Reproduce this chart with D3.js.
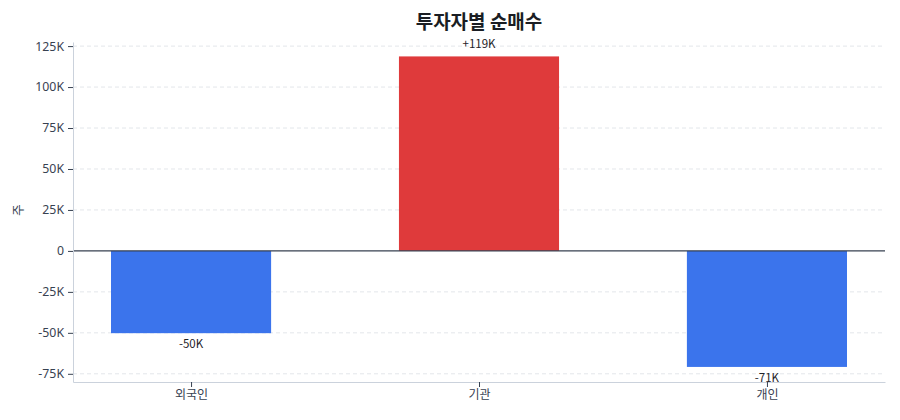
<!DOCTYPE html>
<html>
<head>
<meta charset="utf-8">
<script src="https://cdn.jsdelivr.net/npm/d3@7"></script>
<style>
  body { margin: 0; background: #fff; }
  text { font-family: "Noto Sans CJK KR", "Noto Sans", sans-serif; }
</style>
</head>
<body>
<svg id="chart"></svg>
<script>
const svgWidth = 900, svgHeight = 420;
const margin = {top: 42, right: 15, bottom: 38, left: 73},
    width = svgWidth - margin.left - margin.right,
    height = svgHeight - margin.top - margin.bottom;

// data
const investors = ["외국인", "기관", "개인"];
const netBuy = [-50200, 118700, -70800];
const valueLabels = ["-50K", "+119K", "-71K"];
const yTicks = [-75000, -50000, -25000, 0, 25000, 50000, 75000, 100000, 125000];
const yTickLabels = ["-75K", "-50K", "-25K", "0", "25K", "50K", "75K", "100K", "125K"];

const chart = d3.select("#chart")
    .attr("width", svgWidth)
    .attr("height", svgHeight);

const inner = chart.append("g")
    .attr("transform", `translate(${margin.left},${margin.top})`);

// scales
var xScale = d3.scaleLinear().domain([-0.41, 2.41]).range([0, width]);
var yScale = d3.scaleLinear().domain([-80000, 127500]).range([height, 0]);
const barW = xScale(0.556) - xScale(0);

// grid
inner.append("g").selectAll("line")
    .data(yTicks.filter(d => d !== 0))
    .enter().append("line")
    .attr("x1", 0).attr("x2", width)
    .attr("y1", d => yScale(d)).attr("y2", d => yScale(d))
    .attr("stroke", "#e3e6ea")
    .attr("stroke-dasharray", "4,3");

// bars
inner.append("g").selectAll("rect")
    .data(netBuy)
    .enter().append("rect")
    .attr("x", (d, i) => xScale(i) - barW / 2)
    .attr("width", barW)
    .attr("y", d => yScale(Math.max(0, d)))
    .attr("height", d => Math.abs(yScale(d) - yScale(0)))
    .attr("fill", d => d >= 0 ? "#df3a3b" : "#3b74ec");

// zero line
inner.append("line")
    .attr("x1", 0).attr("x2", width)
    .attr("y1", yScale(0)).attr("y2", yScale(0))
    .attr("stroke", "#374151").attr("stroke-width", 1.3);

// value labels
inner.append("g").selectAll("text")
    .data(netBuy)
    .enter().append("text")
    .attr("x", (d, i) => xScale(i))
    .attr("y", d => d >= 0 ? yScale(d) - 8 : yScale(d) + 15)
    .attr("text-anchor", "middle")
    .attr("font-size", 11.5)
    .attr("fill", "#1f2328")
    .text((d, i) => valueLabels[i]);

// y axis
var yAxis = d3.axisLeft(yScale)
    .tickValues(yTicks)
    .tickFormat((d, i) => yTickLabels[i])
    .tickSizeInner(5).tickSizeOuter(0).tickPadding(4);
const gy = inner.append("g").call(yAxis);
gy.select(".domain").attr("stroke", "#cbd2dc");
gy.selectAll(".tick line").attr("stroke", "#374151");
gy.selectAll(".tick text").attr("font-size", 12.3).attr("fill", "#374151")
    .style("font-family", "\"Noto Sans\", sans-serif");

// x axis
var xAxis = d3.axisBottom(xScale)
    .tickValues([0, 1, 2])
    .tickFormat(i => investors[i])
    .tickSizeInner(5).tickSizeOuter(0).tickPadding(3);
const gx = inner.append("g")
    .attr("transform", `translate(0,${height})`)
    .call(xAxis);
gx.select(".domain").attr("stroke", "#cbd2dc");
gx.selectAll(".tick line").attr("stroke", "#374151");
gx.selectAll(".tick text").attr("font-size", 12).attr("fill", "#374151")
    .style("font-family", "\"Noto Sans CJK KR\", sans-serif");

// y label
chart.append("text")
    .attr("transform", `translate(19,${margin.top + yScale(25000)}) rotate(-90)`)
    .attr("text-anchor", "middle")
    .attr("dy", "0.35em")
    .attr("font-size", 12.5)
    .attr("fill", "#374151")
    .text("주");

// title
chart.append("text")
    .attr("x", margin.left + width / 2)
    .attr("y", 29)
    .attr("text-anchor", "middle")
    .attr("font-size", 19)
    .attr("font-weight", "bold")
    .attr("fill", "#1a1d23")
    .text("투자자별 순매수");
</script>
</body>
</html>
